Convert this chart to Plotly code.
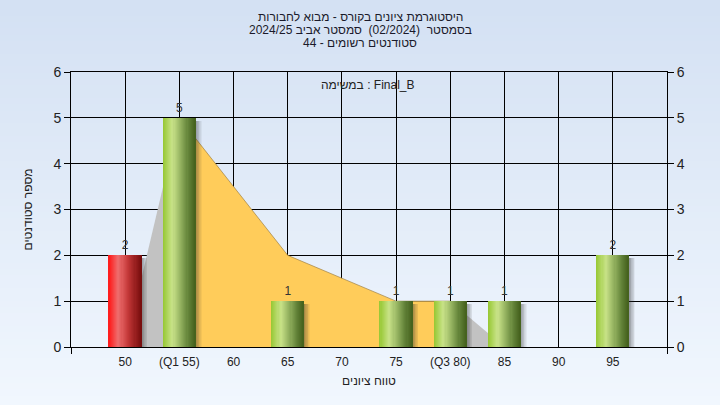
import base64, struct, zlib
import plotly.graph_objects as go

# ---------------- data ----------------
title_lines = [
    "היסטוגרמת ציונים בקורס - מבוא לחבורות",
    "בסמסטר  (02/2024)  סמסטר אביב 2024/25",
    "סטודנטים רשומים - 44",
]
task_label = "Final_B : במשימה"
x_title = "טווח ציונים"
y_title = "מספר סטודנטים"

bar_x = [50, 55, 65, 75, 80, 85, 95]
bar_y = [2, 5, 1, 1, 1, 1, 2]
bar_kind = ["low", "ok", "ok", "ok", "ok", "ok", "ok"]

tick_vals = [50, 55, 60, 65, 70, 75, 80, 85, 90, 95]
tick_text = ["50", "(Q1 55)", "60", "65", "70", "75", "(Q3 80)", "85", "90", "95"]

poly_x = [50, 55, 65, 75, 80, 85]
poly_y = [0, 5, 2, 1, 1, 0]
q1, q3 = 55, 80

x_range = [45, 100]
y_range = [0, 6]
y_ticks = [0, 1, 2, 3, 4, 5, 6]

# ---------------- style ----------------
W, H = 720, 405
ML, MR, MT, MB = 71, 53, 72, 58
PW, PH = W - ML - MR, H - MT - MB
FONT = "Liberation Sans, DejaVu Sans, Arial, sans-serif"
RLE, PDF = "\u202B", "\u202C"
LABEL_LIFT = 0.07  # value-label gap above bar top, in axis units

def rtl(s):
    return RLE + s + PDF

def png_gradient(h, top, bot):
    rows = b""
    for r in range(h):
        t = r / (h - 1)
        c = bytes(int(round(top[i] + (bot[i] - top[i]) * t)) for i in range(3))
        rows += b"\x00" + c + c
    def chunk(tag, data):
        return struct.pack(">I", len(data)) + tag + data + struct.pack(">I", zlib.crc32(tag + data) & 0xffffffff)
    png = b"\x89PNG\r\n\x1a\n" + chunk(b"IHDR", struct.pack(">IIBBBBB", 2, h, 8, 2, 0, 0, 0)) \
        + chunk(b"IDAT", zlib.compress(rows)) + chunk(b"IEND", b"")
    return "data:image/png;base64," + base64.b64encode(png).decode()

def lerp_stops(stops, t):
    for (t0, c0), (t1, c1) in zip(stops[:-1], stops[1:]):
        if t0 <= t <= t1:
            f = (t - t0) / (t1 - t0) if t1 > t0 else 0
            return "rgb(%d,%d,%d)" % tuple(round(c0[i] + (c1[i] - c0[i]) * f) for i in range(3))
    c = stops[-1][1]
    return "rgb(%d,%d,%d)" % c

green_stops = [(0.0, (150, 200, 50)), (0.3, (200, 226, 136)), (0.55, (148, 178, 96)),
               (0.8, (96, 128, 54)), (1.0, (68, 96, 28))]
red_stops = [(0.0, (255, 24, 24)), (0.3, (238, 110, 110)), (0.6, (196, 56, 56)),
             (1.0, (118, 12, 12))]
stops_for = {"low": red_stops, "ok": green_stops}

fig = go.Figure()

# area polygon (main subplot, under the bars): outside Q1..Q3 light gray, inside yellow
def seg(lo, hi):
    xs = [x for x in poly_x if lo <= x <= hi]
    ys = [poly_y[poly_x.index(x)] for x in xs]
    return xs, ys

for lo, hi, col, lc in [(poly_x[0], q1, "#c2c2c2", "rgba(0,0,0,0)"),
                        (q1, q3, "#ffcc5a", "rgba(160,130,70,0.7)"),
                        (q3, poly_x[-1], "#c2c2c2", "rgba(0,0,0,0)")]:
    xs, ys = seg(lo, hi)
    fig.add_trace(go.Scatter(x=xs, y=ys, mode="lines", fill="tozeroy", fillcolor=col,
                             line=dict(color=lc, width=1), hoverinfo="skip", showlegend=False))

fig.add_trace(go.Scatter(x=[x_range[0]], y=[y_range[0]], yaxis="y2", mode="markers",
                         marker=dict(opacity=0), hoverinfo="skip", showlegend=False))

# bars on an overlaid subplot so they sit above the area: cylinder look from narrow strips
BW = 3.0
NS = 30
SW = 0.55
NSH = 8
for i in range(NSH):
    a = 0.42 * (1 - i / NSH)
    fig.add_trace(go.Bar(x=bar_x, y=[v - 0.06 for v in bar_y], width=SW / NSH,
                         offset=BW / 2 + i * SW / NSH, xaxis="x2", yaxis="y3",
                         marker=dict(color="rgba(40,40,40,%.3f)" % a, line_width=0),
                         hoverinfo="skip", showlegend=False))
for i in range(NS):
    t = (i + 0.5) / NS
    cols = [lerp_stops(stops_for[k], t) for k in bar_kind]
    fig.add_trace(go.Bar(x=bar_x, y=bar_y, width=BW / NS * 1.15, offset=-BW / 2 + i * BW / NS,
                         xaxis="x2", yaxis="y3",
                         marker=dict(color=cols, line_width=0),
                         hoverinfo="skip", showlegend=False))

fig.add_trace(go.Scatter(x=bar_x, y=[v + LABEL_LIFT for v in bar_y], mode="text",
                         text=[str(v) for v in bar_y],
                         textposition="top center", xaxis="x2", yaxis="y3",
                         textfont=dict(family=FONT, size=12, color="#333333"),
                         hoverinfo="skip", showlegend=False))

annotations = []
for k, line in enumerate(title_lines):
    annotations.append(dict(text=rtl(line), xref="paper", yref="paper",
                            x=(W / 2 - ML) / PW, y=1 + (MT - (17 + 13 * k)) / PH,
                            xanchor="center", yanchor="middle", showarrow=False,
                            font=dict(size=12, color="#1a1a2a")))
annotations.append(dict(text=rtl(task_label), xref="paper", yref="paper",
                        x=(367 - ML) / PW, y=1 - 13 / PH, xanchor="center", yanchor="middle",
                        showarrow=False, font=dict(size=12, color="#222222")))

fig.update_layout(
    width=W, height=H,
    margin=dict(l=ML, r=MR, t=MT, b=MB, pad=0),
    paper_bgcolor="#e4edf8",
    plot_bgcolor="#b4b4b4",
    barmode="overlay",
    bargap=0,
    font=dict(family=FONT, size=12, color="#222222"),
    showlegend=False,
    hovermode=False,
    xaxis=dict(range=x_range, tickvals=tick_vals, ticktext=tick_text, ticks="",
               showgrid=True, gridcolor="black", gridwidth=1,
               showline=True, linecolor="black", linewidth=1, mirror=True,
               zeroline=False, tickfont=dict(size=12, color="#222222"),
               ticklabelstandoff=4,
               minor=dict(tick0=x_range[0], dtick=x_range[1] - x_range[0], ticks="outside",
                          ticklen=6, tickcolor="black", showgrid=False),
               title=dict(text=rtl(x_title), font=dict(size=12), standoff=8)),
    xaxis2=dict(range=x_range, overlaying="x", visible=False, showgrid=False),
    yaxis=dict(range=y_range, tickvals=y_ticks, ticks="outside", ticklen=6, tickcolor="black",
               showgrid=True, gridcolor="black", gridwidth=1,
               showline=True, linecolor="black", linewidth=1, mirror=True,
               zeroline=False, tickfont=dict(size=14, color="#222222"),
               title=dict(text=rtl(y_title), font=dict(size=12), standoff=18)),
    yaxis2=dict(range=y_range, tickvals=y_ticks, overlaying="y", side="right",
                ticks="outside", ticklen=6, tickcolor="black", showgrid=False,
                zeroline=False, showline=False, tickfont=dict(size=14, color="#222222")),
    yaxis3=dict(range=y_range, overlaying="y", visible=False, showgrid=False),
    images=[dict(source=png_gradient(64, (212, 225, 243), (241, 247, 254)),
                 xref="paper", yref="paper", x=-ML / PW, y=1 + MT / PH,
                 sizex=W / PW, sizey=H / PH, xanchor="left", yanchor="top",
                 sizing="stretch", layer="below")],
    annotations=annotations,
)

fig.write_html("out.html", config={"displayModeBar": False},
               post_script="document.body.style.margin='0';")
